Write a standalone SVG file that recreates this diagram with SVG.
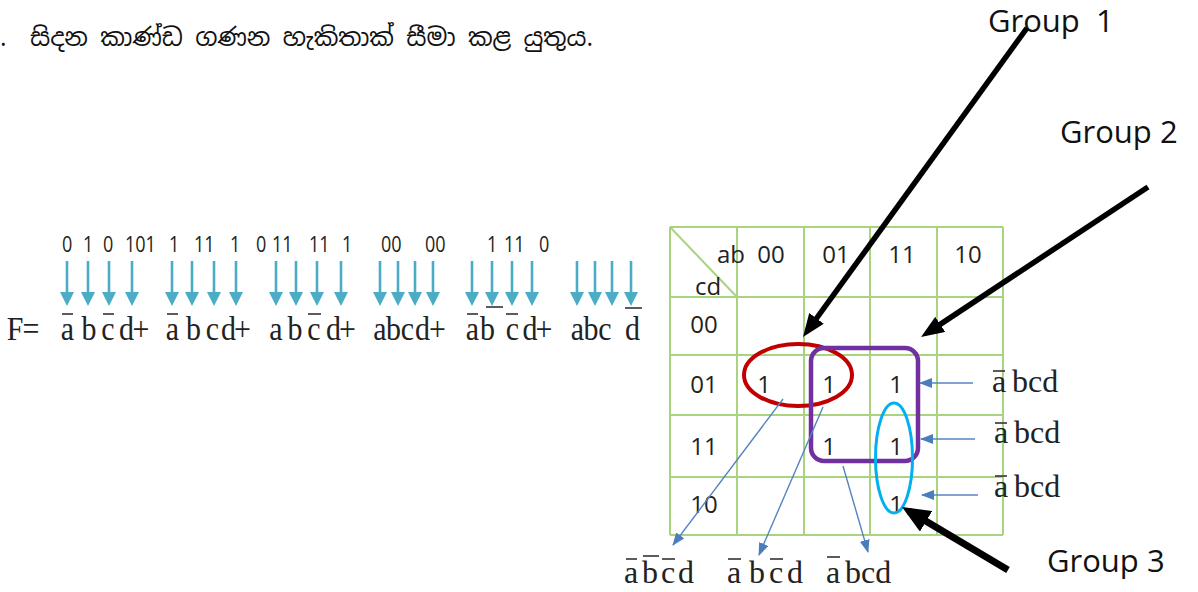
<svg xmlns="http://www.w3.org/2000/svg" width="1198" height="592" viewBox="0 0 1198 592">
<style>
.si{font-family:"Noto Sans Sinhala","Noto Serif Sinhala","Iskoola Pota","Noto Sans",sans-serif;font-size:24.5px;fill:#111}
.tm{font-family:"Liberation Serif","Times New Roman",serif;fill:#222}
.bits{font-family:"Open Sans","Liberation Sans",sans-serif;font-size:22px;fill:#222}
.km{font-family:"Open Sans","Liberation Sans",sans-serif;font-size:24px;fill:#222;text-anchor:middle}
.grp{font-family:"Open Sans","Liberation Sans",sans-serif;font-size:31px;fill:#111}
.grid line{stroke:#a9d47f;stroke-width:2}
.ov{stroke:#333;stroke-width:1.6}
.down{stroke:#4bacc6;stroke-width:2.6;marker-end:url(#mCyan)}
.thin{stroke:#5584c4;stroke-width:1.4;fill:none;marker-end:url(#mBlue)}
.big{stroke:#000;stroke-width:5.5;marker-end:url(#mBlack)}
</style>
<defs>
<marker id="mCyan" markerUnits="userSpaceOnUse" markerWidth="14" markerHeight="14" refX="8" refY="7" orient="auto"><path d="M0,0 L14,7 L0,14 z" fill="#4bacc6"/></marker>
<marker id="mBlue" markerUnits="userSpaceOnUse" markerWidth="13" markerHeight="11" refX="12" refY="5" orient="auto"><path d="M0,0 L13,5 L0,10 z" fill="#4a7ebb"/></marker>
<marker id="mBlack" markerUnits="userSpaceOnUse" markerWidth="24" markerHeight="18" refX="15" refY="9" orient="auto"><path d="M0,0 L23,9 L0,18 z" fill="#000"/></marker>
<marker id="mBlackBig" markerUnits="userSpaceOnUse" markerWidth="29" markerHeight="24" refX="20" refY="12" orient="auto"><path d="M0,0 L28,12 L0,24 z" fill="#000"/></marker>
</defs>
<rect width="1198" height="592" fill="#fff"/>

<g id="heading">
<text x="0" y="46" class="si">.</text>
<text x="30" y="46" class="si">සිදන කාණ්ඩ ගණන හැකිතාක් සීමා කළ යුතුය.</text>
</g>

<g id="bits">
<g transform="scale(0.82 1)">
<text y="252" class="bits"><tspan x="75.6">0</tspan><tspan x="101.2">1</tspan><tspan x="125.6">0</tspan><tspan x="152.4">101</tspan><tspan x="206.1">1</tspan><tspan x="236.6">11</tspan><tspan x="280.5">1</tspan><tspan x="312.2">0</tspan><tspan x="331.7">11</tspan><tspan x="376.8">11</tspan><tspan x="417.1">1</tspan><tspan x="464.6">00</tspan><tspan x="518.3">00</tspan><tspan x="593.9">1</tspan><tspan x="614.6">11</tspan><tspan x="657.3">0</tspan></text>
</g>
</g>

<g id="equation">
<g transform="scale(0.88 1)">
<text class="tm" y="340" font-size="34" text-anchor="middle" x="17.05 35.23 76.7 101.14 122.73 143.75 160.23 196.02 219.89 241.48 259.66 275.57 313.64 335.23 356.82 378.98 394.89 431.82 447.16 463.07 480.11 497.16 536.93 553.98 582.39 602.27 618.18 656.25 671.59 687.5 718.75">F=abcd+abcd+abcd+abcd+abcd+abcd</text>
</g>
<line class="ov" x1="62" y1="314" x2="73" y2="314"/>
<line class="ov" x1="103" y1="314" x2="114" y2="314"/>
<line class="ov" x1="167" y1="314" x2="178" y2="314"/>
<line class="ov" x1="308" y1="314" x2="321" y2="314"/>
<line class="ov" x1="467" y1="314" x2="478" y2="314"/>
<line class="ov" x1="486" y1="307" x2="503" y2="307"/>
<line class="ov" x1="506" y1="314" x2="518" y2="314"/>
<line class="ov" x1="625" y1="308" x2="642" y2="308"/>
</g>

<g id="bit-arrows">
<line class="down" x1="67" y1="261" x2="67" y2="300"/>
<line class="down" x1="88" y1="261" x2="88" y2="300"/>
<line class="down" x1="109" y1="261" x2="109" y2="300"/>
<line class="down" x1="132" y1="261" x2="132" y2="300"/>
<line class="down" x1="172" y1="261" x2="172" y2="300"/>
<line class="down" x1="192" y1="261" x2="192" y2="300"/>
<line class="down" x1="214" y1="261" x2="214" y2="300"/>
<line class="down" x1="236" y1="261" x2="236" y2="300"/>
<line class="down" x1="276" y1="261" x2="276" y2="300"/>
<line class="down" x1="296" y1="261" x2="296" y2="300"/>
<line class="down" x1="317" y1="261" x2="317" y2="300"/>
<line class="down" x1="341" y1="261" x2="341" y2="300"/>
<line class="down" x1="380" y1="261" x2="380" y2="300"/>
<line class="down" x1="398" y1="261" x2="398" y2="300"/>
<line class="down" x1="415" y1="261" x2="415" y2="300"/>
<line class="down" x1="433" y1="261" x2="433" y2="300"/>
<line class="down" x1="472" y1="261" x2="472" y2="300"/>
<line class="down" x1="492" y1="261" x2="492" y2="300"/>
<line class="down" x1="512" y1="261" x2="512" y2="300"/>
<line class="down" x1="532" y1="261" x2="532" y2="300"/>
<line class="down" x1="577" y1="261" x2="577" y2="300"/>
<line class="down" x1="595" y1="261" x2="595" y2="300"/>
<line class="down" x1="612" y1="261" x2="612" y2="300"/>
<line class="down" x1="631" y1="261" x2="631" y2="300"/>
</g>

<g id="kmap">
<g class="grid">
<line x1="670" y1="227" x2="670" y2="535"/>
<line x1="737" y1="227" x2="737" y2="535"/>
<line x1="804" y1="227" x2="804" y2="535"/>
<line x1="870" y1="227" x2="870" y2="535"/>
<line x1="937" y1="227" x2="937" y2="535"/>
<line x1="1003" y1="227" x2="1003" y2="535"/>
<line x1="670" y1="227" x2="1003" y2="227"/>
<line x1="670" y1="297" x2="1003" y2="297"/>
<line x1="670" y1="355" x2="1003" y2="355"/>
<line x1="670" y1="415" x2="1003" y2="415"/>
<line x1="670" y1="477" x2="1003" y2="477"/>
<line x1="670" y1="535" x2="1003" y2="535"/>
<line x1="670" y1="227" x2="737" y2="297"/>
</g>
<text class="km" x="731" y="263">ab</text>
<text class="km" x="771" y="263">00</text>
<text class="km" x="836" y="263">01</text>
<text class="km" x="902" y="263">11</text>
<text class="km" x="968" y="263">10</text>
<text class="km" x="708" y="295">cd</text>
<text class="km" x="704" y="333">00</text>
<text class="km" x="704" y="393">01</text>
<text class="km" x="704" y="455">11</text>
<text class="km" x="704" y="513">10</text>
<text class="km" x="764" y="393">1</text>
<text class="km" x="829" y="393">1</text>
<text class="km" x="896" y="393">1</text>
<text class="km" x="829" y="455">1</text>
<text class="km" x="896" y="455">1</text>
<text class="km" x="896" y="513">1</text>
</g>

<g id="group1-loop"><ellipse cx="798" cy="375" rx="54" ry="31" fill="none" stroke="#c00000" stroke-width="4"/></g>
<g id="group2-loop"><rect x="811" y="348" width="107" height="113" rx="13" fill="none" stroke="#7030a0" stroke-width="4.5"/></g>
<g id="group3-loop"><ellipse cx="894" cy="458" rx="18.5" ry="55" fill="none" stroke="#00b0f0" stroke-width="3"/></g>

<g id="labels">
<text class="grp" x="988" y="32" xml:space="preserve">Group  1</text>
<text class="grp" x="1060" y="143">Group 2</text>
<text class="grp" x="1047" y="572">Group 3</text>
<text class="tm" font-size="32" y="392"><tspan x="992">a</tspan><tspan x="1012">bcd</tspan></text>
<text class="tm" font-size="32" y="443"><tspan x="994">a</tspan><tspan x="1014">bcd</tspan></text>
<text class="tm" font-size="32" y="497"><tspan x="994">a</tspan><tspan x="1014">bcd</tspan></text>
<line class="ov" x1="993" y1="371" x2="1005" y2="371"/>
<line class="ov" x1="995" y1="423" x2="1007" y2="423"/>
<line class="ov" x1="995" y1="476" x2="1007" y2="476"/>
<text class="tm" font-size="32" y="583" x="624 642 661 678">abcd</text>
<text class="tm" font-size="32" y="583" x="727 749 769 787">abcd</text>
<text class="tm" font-size="32" y="583" x="826 845">a<tspan>bcd</tspan></text>
<line class="ov" x1="626" y1="559" x2="637" y2="559"/>
<line class="ov" x1="643" y1="556" x2="659" y2="556"/>
<line class="ov" x1="662" y1="559" x2="675" y2="559"/>
<line class="ov" x1="728" y1="559" x2="741" y2="559"/>
<line class="ov" x1="770" y1="559" x2="783" y2="559"/>
<line class="ov" x1="827" y1="557" x2="840" y2="557"/>
</g>

<g id="connectors">
<line class="thin" x1="783" y1="399" x2="673" y2="545"/>
<line class="thin" x1="823" y1="407" x2="759" y2="555"/>
<line class="thin" x1="843" y1="466" x2="868" y2="552"/>
<line class="thin" x1="973" y1="383" x2="920" y2="383"/>
<line class="thin" x1="975" y1="439" x2="921" y2="439"/>
<line class="thin" x1="978" y1="495" x2="922" y2="495"/>
<line class="big" x1="1027" y1="28" x2="807.7" y2="330.5"/>
<line class="big" x1="1148" y1="187" x2="927.7" y2="332.6"/>
<line x1="1008" y1="570" x2="908.9" y2="511.1" stroke="#000" stroke-width="7" marker-end="url(#mBlackBig)"/>
</g>
</svg>
